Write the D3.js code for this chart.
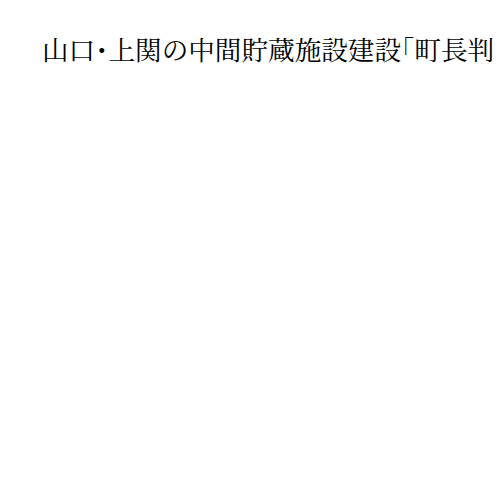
<!DOCTYPE html>
<html>
<head>
<meta charset="utf-8">
<script src="https://cdn.jsdelivr.net/npm/d3@7"></script>
<style>
  html, body { margin: 0; padding: 0; background: #fff; overflow: hidden; }
  .title { font-feature-settings: "halt" 1; }
</style>
</head>
<body>
<script>
const titleText = "山口・上関の中間貯蔵施設建設「町長判";
const categories = [];
const values = [];

const width = 500, height = 500;
const svg = d3.select("body").append("svg")
  .attr("width", width)
  .attr("height", height);

svg.append("rect").attr("width", width).attr("height", height).attr("fill", "#fff");

svg.append("text")
  .attr("class", "title")
  .attr("x", 42)
  .attr("y", 60)
  .attr("font-family", "'Noto Serif CJK JP', 'Noto Sans CJK JP', serif")
  .attr("font-size", 26.6)
  .attr("fill", "#000")
  .text(titleText);

const x = d3.scaleBand().domain(categories).range([50, 470]);
const y = d3.scaleLinear().domain([0, d3.max(values) || 1]).range([450, 100]);
svg.selectAll("rect.bar").data(values).join("rect")
  .attr("class", "bar")
  .attr("x", (d, i) => x(categories[i]))
  .attr("y", d => y(d))
  .attr("width", x.bandwidth())
  .attr("height", d => 450 - y(d));
</script>
</body>
</html>
